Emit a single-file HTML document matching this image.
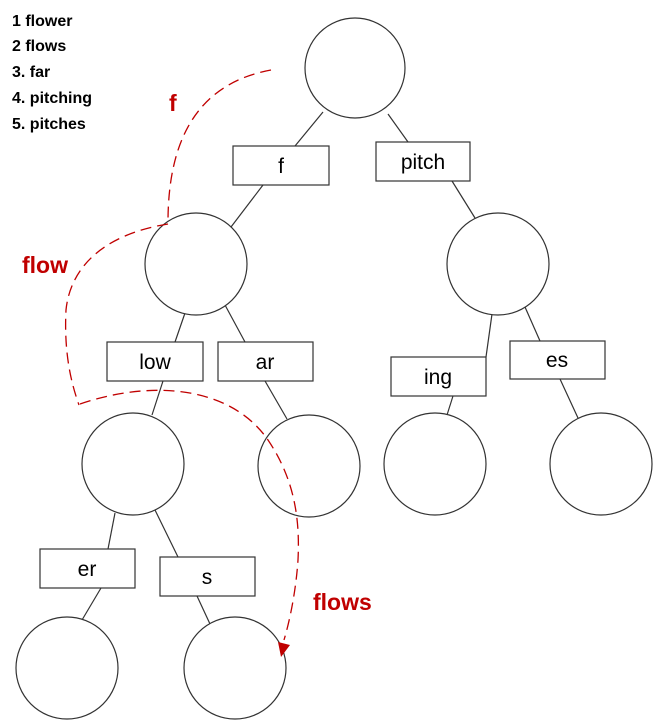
<!DOCTYPE html>
<html><head><meta charset="utf-8"><style>
body{margin:0;background:#fff;}
svg{display:block;font-family:"Liberation Sans",sans-serif;}
</style></head><body>
<svg width="655" height="720" viewBox="0 0 655 720">
<g font-weight="bold" font-size="16" fill="#000">
<text x="12" y="26">1 flower</text>
<text x="12" y="51">2 flows</text>
<text x="12" y="77">3. far</text>
<text x="12" y="103">4. pitching</text>
<text x="12" y="129">5. pitches</text>
</g>
<g stroke="#333" stroke-width="1.2" fill="none">
<line x1="323" y1="112" x2="295" y2="146"/>
<line x1="388" y1="114" x2="408" y2="142"/>
<line x1="263" y1="185" x2="231" y2="227"/>
<line x1="452" y1="181" x2="475" y2="218"/>
<line x1="185" y1="313" x2="175" y2="342"/>
<line x1="225" y1="305" x2="245" y2="342"/>
<line x1="163" y1="381" x2="152" y2="415"/>
<line x1="265" y1="381" x2="287" y2="419"/>
<line x1="492" y1="314" x2="486" y2="357"/>
<line x1="525" y1="307" x2="540" y2="341"/>
<line x1="453" y1="396" x2="447" y2="415"/>
<line x1="560" y1="379" x2="578" y2="418"/>
<line x1="115" y1="513" x2="108" y2="549"/>
<line x1="155" y1="510" x2="178" y2="557"/>
<line x1="101" y1="588" x2="82" y2="620"/>
<line x1="197" y1="596" x2="210" y2="624"/>
</g>
<g stroke="#333" stroke-width="1.2" fill="#fff">
<circle cx="355" cy="68" r="50"/>
<circle cx="196" cy="264" r="51"/>
<circle cx="498" cy="264" r="51"/>
<circle cx="133" cy="464" r="51"/>
<circle cx="309" cy="466" r="51"/>
<circle cx="435" cy="464" r="51"/>
<circle cx="601" cy="464" r="51"/>
<circle cx="67" cy="668" r="51"/>
<circle cx="235" cy="668" r="51"/>
<rect x="233" y="146" width="96" height="39"/>
<rect x="376" y="142" width="94" height="39"/>
<rect x="107" y="342" width="96" height="39"/>
<rect x="218" y="342" width="95" height="39"/>
<rect x="391" y="357" width="95" height="39"/>
<rect x="510" y="341" width="95" height="38"/>
<rect x="40" y="549" width="95" height="39"/>
<rect x="160" y="557" width="95" height="39"/>
</g>
<g font-size="21" text-anchor="middle" fill="#000">
<text x="281" y="173">f</text>
<text x="423" y="169">pitch</text>
<text x="155" y="369">low</text>
<text x="265" y="369">ar</text>
<text x="438" y="384">ing</text>
<text x="557" y="367">es</text>
<text x="87" y="576">er</text>
<text x="207" y="584">s</text>
</g>
<g stroke="#c00000" stroke-width="1.3" fill="none" stroke-dasharray="11,6">
<path d="M271 70 C 205 82 168 130 168 222"/>
<path d="M168 224 C 100 235 70 270 66 310 C 64 350 70 380 79 405"/>
<path d="M80 404 C 150 380 230 385 268 440 C 295 480 300 520 298 560 C 296 590 290 620 284 640"/>
</g>
<polygon points="278,642 290,645 281,657" fill="#c00000"/>
<g font-weight="bold" fill="#c00000" font-size="23">
<text x="169" y="111">f</text>
<text x="22" y="273">flow</text>
<text x="313" y="610">flows</text>
</g>
</svg>
</body></html>
